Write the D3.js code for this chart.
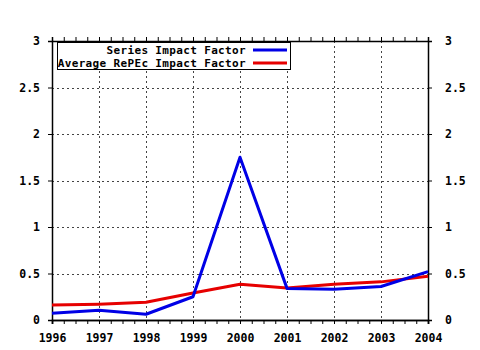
<!DOCTYPE html>
<html>
<head>
<meta charset="utf-8">
<script src="https://cdn.jsdelivr.net/npm/d3@7/dist/d3.min.js"></script>
<style>
  html, body { margin: 0; padding: 0; background: #fff; }
  svg { display: block; }
  text { font-family: "DejaVu Sans Mono", monospace; font-weight: bold; font-size: 11.5px; fill: #000; }
  .legend text { font-size: 11px; letter-spacing: 0.35px; }
</style>
</head>
<body>
<svg id="chart" width="480" height="350"></svg>
<script>
// Years on the horizontal axis
const years = [1996, 1997, 1998, 1999, 2000, 2001, 2002, 2003, 2004];
// Impact factor of the series, per year
const seriesImpact = [0.072, 0.105, 0.062, 0.25, 1.75, 0.34, 0.33, 0.36, 0.52];
// Average RePEc impact factor, per year
const averageImpact = [0.16, 0.17, 0.19, 0.29, 0.385, 0.345, 0.385, 0.41, 0.47];
// Vertical axis ticks and their labels
const yTicks = [0, 0.5, 1, 1.5, 2, 2.5, 3];
const yTickLabels = ["0", "0.5", "1", "1.5", "2", "2.5", "3"];
// Legend entries
const legendLabels = ["Series Impact Factor", "Average RePEc Impact Factor"];
const seriesColors = ["#0000e6", "#e60000"];

const svg = d3.select("#chart");
const plotLeft = 52, plotRight = 428, plotTop = 41, plotBottom = 320;

const x = d3.scaleLinear().domain([1996, 2004]).range([plotLeft, plotRight]);
const y = d3.scaleLinear().domain([0, 3]).range([plotBottom, plotTop]);

// Minor year ticks (quarters of a year)
const minorX = d3.range(1996, 2004.001, 0.25);

// Dotted grid
const grid = svg.append("g").attr("stroke", "#444").attr("stroke-width", 1)
  .attr("stroke-dasharray", "2,3").attr("shape-rendering", "crispEdges");
grid.selectAll("line.v").data(years.slice(1, -1)).join("line")
  .attr("x1", d => Math.round(x(d)) + 0.5).attr("x2", d => Math.round(x(d)) + 0.5)
  .attr("y1", plotTop).attr("y2", plotBottom);
grid.selectAll("line.h").data(yTicks.slice(1, -1)).join("line")
  .attr("y1", d => Math.round(y(d)) + 0.5).attr("y2", d => Math.round(y(d)) + 0.5)
  .attr("x1", plotLeft).attr("x2", plotRight);

// Axes
const fmtY = (d, i) => yTickLabels[i];
const axes = [
  svg.append("g").attr("transform", `translate(0,${plotBottom})`)
    .call(d3.axisBottom(x).tickValues(minorX).tickSize(4).tickFormat("")),
  svg.append("g").attr("transform", `translate(0,${plotBottom})`)
    .call(d3.axisBottom(x).tickValues(years).tickSize(4).tickPadding(10).tickFormat(d3.format("d"))),
  svg.append("g").attr("transform", `translate(0,${plotTop})`)
    .call(d3.axisTop(x).tickValues(minorX).tickSize(4).tickFormat("")),
  svg.append("g").attr("transform", `translate(${plotLeft},0)`)
    .call(d3.axisLeft(y).tickValues(yTicks).tickSize(4).tickPadding(8).tickFormat(fmtY)),
  svg.append("g").attr("transform", `translate(${plotRight},0)`)
    .call(d3.axisRight(y).tickValues(yTicks).tickSize(4).tickPadding(13).tickFormat(fmtY))
];
axes.forEach(g => {
  g.selectAll(".domain").attr("stroke", "#000").attr("stroke-width", 1.5);
  g.selectAll(".tick line").attr("stroke", "#000");
  g.selectAll("text").attr("font-family", null).attr("font-size", null);
});

// Series lines
const line = d3.line().x((d, i) => x(years[i])).y(d => y(d));
[averageImpact, seriesImpact].forEach((vals, k) => {
  svg.append("path").datum(vals)
    .attr("d", line)
    .attr("fill", "none")
    .attr("stroke", seriesColors[1 - k])
    .attr("stroke-width", 3)
    .attr("stroke-linejoin", "round");
});

// Legend
const lg = svg.append("g").attr("class", "legend");
lg.append("rect").attr("x", 57.5).attr("y", 42.5).attr("width", 233).attr("height", 27)
  .attr("fill", "#fff").attr("stroke", "#000").attr("stroke-width", 1);
legendLabels.forEach((t, i) => {
  const cy = 50 + i * 13;
  lg.append("text").attr("x", 246).attr("y", cy).attr("dy", "0.35em")
    .attr("text-anchor", "end").text(t);
  lg.append("line").attr("x1", 253).attr("x2", 287).attr("y1", cy).attr("y2", cy)
    .attr("stroke", seriesColors[i]).attr("stroke-width", 3);
});
</script>
</body>
</html>
